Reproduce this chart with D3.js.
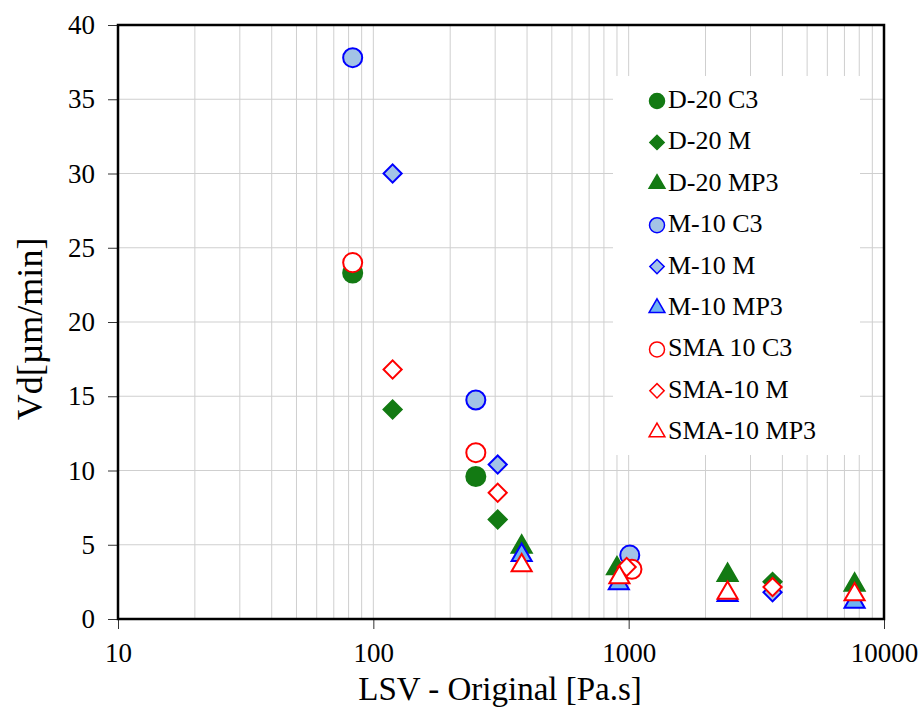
<!DOCTYPE html>
<html lang="en">
<head>
  <meta charset="UTF-8">
  <title>Vd vs LSV</title>
  <script src="https://d3js.org/d3.v7.min.js"></script>
  <style>
    body { margin: 0; padding: 0; background: #fff; }
    svg text { font-family: "Liberation Serif", "Times New Roman", serif; fill: #000; }
  </style>
</head>
<body>
  <div id="chart"></div>
  <script>
    // series names as in the legend
    const seriesNames = ["D-20 C3", "D-20 M", "D-20 MP3", "M-10 C3", "M-10 M", "M-10 MP3",
                         "SMA 10 C3", "SMA-10 M", "SMA-10 MP3"];

    // [LSV Pa.s, Vd um/min]
    const d20C3   = [[83, 23.3], [252, 9.6]];
    const d20M    = [[119, 14.1], [307, 6.7], [3660, 2.5]];
    const d20MP3  = [[381, 4.85], [900, 3.4], [2440, 2.95], [7670, 2.3]];
    const m10C3   = [[83, 37.8], [252, 14.75], [1010, 4.3]];
    const m10M    = [[119, 30.0], [307, 10.4], [3660, 1.8]];
    const m10MP3  = [[381, 4.3], [915, 2.4], [2440, 1.6], [7670, 1.15]];
    const sma10C3 = [[83, 24.0], [252, 11.2], [1030, 3.35]];
    const sma10M  = [[119, 16.8], [307, 8.5], [982, 3.5], [3660, 2.15]];
    const sma10MP3 = [[381, 3.6], [920, 2.8], [2440, 1.75], [7670, 1.65]];

    const yTicks = [0, 5, 10, 15, 20, 25, 30, 35, 40];
    const xTicks = [10, 100, 1000, 10000];

    const width = 924, height = 708;
    const margin = {top: 25, right: 40, bottom: 89, left: 118};
    const w = width - margin.left - margin.right;
    const h = height - margin.top - margin.bottom;
    const serif = "Liberation Serif, Times New Roman, serif";

    const green = "#137a13", blue = "#0000ff", red = "#ff0000";
    const styles = [
      {shape: "circle",   fill: green,     stroke: green},
      {shape: "diamond",  fill: green,     stroke: green},
      {shape: "triangle", fill: green,     stroke: green},
      {shape: "circle",   fill: "#a3c3e6", stroke: blue},
      {shape: "diamond",  fill: "#a3c3e6", stroke: blue},
      {shape: "triangle", fill: "#6fb4f2", stroke: blue},
      {shape: "circle",   fill: "#fff",    stroke: red},
      {shape: "diamond",  fill: "#fff",    stroke: red},
      {shape: "triangle", fill: "#fff",    stroke: red}
    ];
    const seriesData = [d20C3, d20M, d20MP3, m10C3, m10M, m10MP3, sma10C3, sma10M, sma10MP3];

    const svg = d3.select("#chart").append("svg")
      .attr("width", width).attr("height", height);
    const g = svg.append("g").attr("transform", `translate(${margin.left},${margin.top})`);

    const x = d3.scaleLog().domain([10, 10000]).range([0, w]);
    const y = d3.scaleLinear().domain([0, 40]).range([h, 0]);

    // grid
    const minor = x.ticks().filter(v => v > 10 && v < 10000);
    g.append("g").selectAll("line").data(minor).join("line")
      .attr("x1", d => x(d)).attr("x2", d => x(d))
      .attr("y1", 0).attr("y2", h)
      .attr("stroke", "#cfcfcf").attr("stroke-width", 1);
    g.append("g").selectAll("line").data(yTicks.filter(v => v > 0 && v < 40)).join("line")
      .attr("x1", 0).attr("x2", w)
      .attr("y1", d => y(d)).attr("y2", d => y(d))
      .attr("stroke", "#cfcfcf").attr("stroke-width", 1);

    // axes
    const yAxis = g.append("g")
      .call(d3.axisLeft(y).tickValues(yTicks).tickSize(10).tickPadding(13))
      .attr("font-family", serif).attr("font-size", 27);
    yAxis.select(".domain").remove();
    yAxis.selectAll("line").attr("stroke", "#333");

    const xAxis = g.append("g").attr("transform", `translate(0,${h})`)
      .call(d3.axisBottom(x).tickValues(xTicks).tickFormat(d3.format("d")).tickSize(10).tickPadding(14))
      .attr("font-family", serif).attr("font-size", 27);
    xAxis.select(".domain").remove();
    xAxis.selectAll("line").attr("stroke", "#333");

    // frame
    g.append("rect").attr("width", w).attr("height", h)
      .attr("fill", "none").attr("stroke", "#000").attr("stroke-width", 2.5);

    // legend background
    const lg = svg.append("g");
    lg.append("rect").attr("x", 613).attr("y", 76).attr("width", 247).attr("height", 379)
      .attr("fill", "#fff");

    function symbolPath(shape, scale) {
      if (shape === "circle") return d3.symbol(d3.symbolCircle, 285 * scale)();
      if (shape === "diamond") return d3.symbol(d3.symbolSquare, 165 * scale)();
      return d3.symbol(d3.symbolTriangle, 175 * scale)();
    }

    // points
    seriesData.forEach((pts, i) => {
      const st = styles[i];
      g.append("g").selectAll("path").data(pts).join("path")
        .attr("d", symbolPath(st.shape, 1))
        .attr("transform", d => `translate(${x(d[0])},${y(d[1])})` + (st.shape === "diamond" ? " rotate(45)" : ""))
        .attr("fill", st.fill).attr("stroke", st.stroke).attr("stroke-width", 2);
    });

    // legend items
    seriesNames.forEach((name, i) => {
      const st = styles[i];
      const cy = 101 + i * 41.4;
      lg.append("path")
        .attr("d", symbolPath(st.shape, 0.62))
        .attr("transform", `translate(657,${cy})` + (st.shape === "diamond" ? " rotate(45)" : ""))
        .attr("fill", st.fill).attr("stroke", st.stroke).attr("stroke-width", 1.5);
      lg.append("text").attr("x", 668).attr("y", cy + 7)
        .style("font-size", "26px").text(name);
    });

    // axis titles
    svg.append("text")
      .attr("x", margin.left + w / 2 - 1).attr("y", 700)
      .attr("text-anchor", "middle").style("font-size", "33px")
      .text("LSV - Original [Pa.s]");
    svg.append("text")
      .attr("transform", `translate(42,329) rotate(-90)`)
      .attr("text-anchor", "middle").style("font-size", "36px")
      .text("Vd[µm/min]");
  </script>
</body>
</html>
